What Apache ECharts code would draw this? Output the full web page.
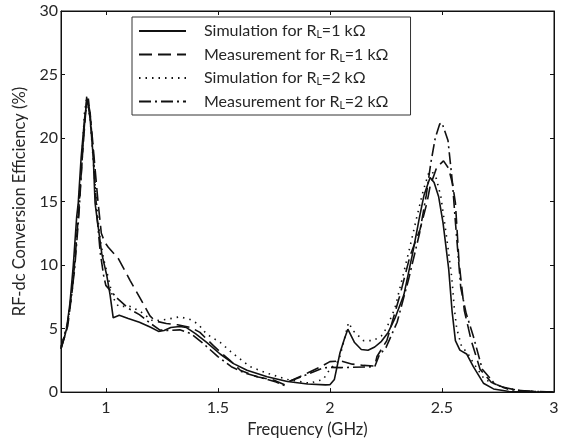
<!DOCTYPE html>
<html><head><meta charset="utf-8">
<script src="https://cdn.jsdelivr.net/npm/echarts@6/dist/echarts.min.js"></script>
<style>html,body{margin:0;padding:0;background:#fff}#c{width:563px;height:443px}</style>
</head><body><div id="c"></div>
<script>
// Frequency ticks (GHz) and efficiency ticks (%)
const xTicks = [1, 1.5, 2, 2.5, 3];
const yTicks = [0, 5, 10, 15, 20, 25, 30];

// Simulation for RL = 1 kOhm (solid)
const sim1kFreq = [0.80,0.815,0.825,0.84,0.855,0.87,0.877,0.89,0.905,0.917,0.93,0.944,0.952,0.96,0.982,1.004,1.019,1.033,1.06,1.10,1.15,1.20,1.235,1.26,1.29,1.33,1.36,1.40,1.45,1.51,1.57,1.63,1.72,1.81,1.90,1.98,2.00,2.02,2.045,2.065,2.08,2.09,2.11,2.14,2.17,2.20,2.23,2.26,2.29,2.33,2.37,2.40,2.42,2.447,2.465,2.485,2.505,2.53,2.545,2.56,2.58,2.61,2.64,2.685,2.73,2.80,2.90,3.00];
const sim1kEff  = [3.5,4.3,5.0,7.0,10.0,13.8,14.9,18.5,21.5,23.1,21.5,18.5,14.9,13.8,10.9,9.2,7.66,5.85,6.05,5.8,5.5,5.1,4.78,4.85,5.08,5.16,5.08,4.6,3.92,3.0,2.24,1.72,1.21,0.83,0.64,0.57,0.58,1.0,3.1,4.2,4.95,4.6,3.9,3.35,3.3,3.55,4.0,4.7,5.8,7.66,11.0,13.8,15.5,16.9,16.5,15.4,13.3,9.7,6.4,4.05,3.3,3.0,2.0,0.7,0.25,0.05,0.02,0.0];

// Measurement for RL = 1 kOhm (dashed); null marks the gap between the two measured bands
const meas1kFreq = [0.80,0.83,0.85,0.865,0.88,0.895,0.91,0.922,0.935,0.95,0.965,0.98,0.995,1.011,1.056,1.108,1.153,1.197,1.22,1.27,1.32,1.38,1.42,1.48,1.52,1.554,1.60,1.674,1.748,1.80,1.81,1.82,1.90,1.97,2.00,2.05,2.10,2.15,2.20,2.21,2.254,2.313,2.358,2.402,2.433,2.447,2.477,2.507,2.53,2.547,2.56,2.576,2.60,2.63,2.67,2.72,2.77,2.85,3.00];
const meas1kEff  = [3.4,5.2,8.0,11.0,14.5,18.5,22.0,23.1,21.0,18.0,15.0,12.5,11.8,11.4,10.5,8.8,7.4,6.0,5.6,5.4,5.3,5.08,4.7,3.66,3.0,2.5,1.72,1.21,0.95,0.56,null,0.85,1.5,2.1,2.4,2.45,2.2,2.1,2.05,2.8,4.05,7.66,10.75,12.8,14.9,16.2,17.7,18.2,17.6,16.4,14.9,10.3,6.4,4.1,1.8,0.77,0.39,0.1,0.0];

// Simulation for RL = 2 kOhm (dotted)
const sim2kFreq = [0.80,0.83,0.85,0.87,0.89,0.905,0.915,0.93,0.945,0.96,0.975,0.99,1.011,1.03,1.056,1.108,1.153,1.21,1.27,1.33,1.376,1.413,1.45,1.51,1.57,1.644,1.718,1.807,1.91,1.97,2.00,2.04,2.065,2.083,2.105,2.15,2.194,2.23,2.254,2.29,2.328,2.358,2.388,2.417,2.44,2.455,2.475,2.495,2.52,2.544,2.555,2.566,2.589,2.61,2.64,2.69,2.77,2.85,3.00];
const sim2kEff  = [3.6,5.3,8.0,12.5,17.5,22.0,23.2,21.5,18.0,14.5,12.0,10.5,9.0,7.5,6.75,6.75,6.36,5.6,5.72,5.93,5.72,5.34,4.56,3.92,3.0,2.0,1.5,1.0,0.7,1.0,1.8,2.5,4.2,5.47,4.8,4.05,4.05,4.43,5.08,6.6,9.3,11.5,13.8,15.9,17.2,17.4,16.8,15.4,12.3,9.0,6.6,5.0,3.5,3.2,2.3,1.0,0.39,0.1,0.0];

// Measurement for RL = 2 kOhm (dash-dot)
const meas2kFreq = [0.80,0.83,0.86,0.88,0.90,0.915,0.93,0.945,0.96,0.975,0.99,1.00,1.05,1.10,1.15,1.20,1.24,1.28,1.33,1.38,1.43,1.50,1.56,1.62,1.70,1.76,1.80,1.81,1.82,1.90,1.97,2.00,2.05,2.10,2.20,2.22,2.25,2.30,2.35,2.40,2.43,2.45,2.47,2.49,2.50,2.527,2.547,2.56,2.584,2.608,2.64,2.68,2.736,2.80,2.90,3.00];
const meas2kEff  = [3.4,5.5,9.5,14.0,20.0,23.3,22.0,18.5,14.0,11.0,9.2,8.4,7.4,6.6,6.1,5.4,4.9,4.85,4.9,4.6,3.9,2.8,2.0,1.5,1.1,0.8,0.5,null,0.85,1.4,1.9,1.95,1.93,1.95,2.0,2.9,3.5,5.5,8.8,12.5,15.5,18.0,20.0,21.1,21.2,19.8,16.45,13.4,8.2,6.2,4.4,1.8,0.64,0.2,0.05,0.0];

const seriesNames = ['Simulation for R_L=1 kΩ','Measurement for R_L=1 kΩ','Simulation for R_L=2 kΩ','Measurement for R_L=2 kΩ'];

function zip(f, v){ return f.map((x,i)=>[x, v[i]===null ? '-' : v[i]]); }

const FONT = 'Lato';
const TXT = '#262626';
const chart = echarts.init(document.getElementById('c'), null, {renderer:'canvas'});

const lineBase = {type:'line', showSymbol:false, symbol:'none', smooth:false, connectNulls:false, z:3};
const styles = [
  {color:'#111', width:1.6, type:'solid'},
  {color:'#111', width:1.6, type:[13,6]},
  {color:'#111', width:1.6, type:[1.5,5]},
  {color:'#111', width:1.6, type:[12,4,2,4]}
];
const dataSets = [zip(sim1kFreq,sim1kEff), zip(meas1kFreq,meas1kEff), zip(sim2kFreq,sim2kEff), zip(meas2kFreq,meas2kEff)];

chart.setOption({
  animation:false,
  backgroundColor:'#fff',
  grid:{left:61, right:9, top:11, bottom:44, show:true, borderColor:'#111', borderWidth:1, containLabel:false},
  legend:{
    orient:'vertical', left:132, top:17,
    backgroundColor:'#fff', borderColor:'#333', borderWidth:1, borderRadius:0,
    padding:[6,22,4,6], itemGap:6, itemWidth:47, itemHeight:14,
    itemStyle:{opacity:0},
    data: seriesNames,
    formatter: function(name){
      const parts = name.split('R_L');
      return '{a|' + parts[0] + 'R}{s|L}{a|' + parts[1] + '}';
    },
    textStyle:{
      color:TXT, fontFamily:FONT, fontSize:16, padding:[0,0,0,13],
      rich:{
        a:{fontFamily:FONT, fontSize:16, color:TXT, lineHeight:19},
        s:{fontFamily:FONT, fontSize:10.5, color:TXT, verticalAlign:'bottom', padding:[6,0,0,0], lineHeight:19}
      }
    }
  },
  xAxis:[{
    type:'value', min:0.8, max:3, position:'bottom',
    name:'Frequency (GHz)', nameLocation:'middle', nameGap:27,
    nameTextStyle:{fontFamily:FONT, fontSize:16.5, color:TXT},
    axisLine:{show:true, onZero:false, lineStyle:{color:'#111', width:1}},
    axisTick:{show:true, inside:true, length:4, customValues:xTicks, lineStyle:{color:'#111'}},
    axisLabel:{show:true, customValues:xTicks, fontFamily:FONT, fontSize:16, color:TXT, margin:8,
      formatter:(v)=>String(v)},
    splitLine:{show:false}
  },{
    type:'value', min:0.8, max:3, position:'top',
    axisLine:{show:true, onZero:false, lineStyle:{color:'#111', width:1}},
    axisTick:{show:true, inside:true, length:4, customValues:xTicks, lineStyle:{color:'#111'}},
    axisLabel:{show:false}, splitLine:{show:false}
  }],
  yAxis:[{
    type:'value', min:0, max:30, interval:5, position:'left',
    name:'RF-dc Conversion Efficiency (%)', nameLocation:'middle', nameGap:33,
    nameTextStyle:{fontFamily:FONT, fontSize:16.5, color:TXT},
    axisLine:{show:true, onZero:false, lineStyle:{color:'#111', width:1}},
    axisTick:{show:true, inside:true, length:4, lineStyle:{color:'#111'}},
    axisLabel:{show:true, fontFamily:FONT, fontSize:16, color:TXT, margin:3},
    splitLine:{show:false}
  },{
    type:'value', min:0, max:30, interval:5, position:'right',
    axisLine:{show:true, onZero:false, lineStyle:{color:'#111', width:1}},
    axisTick:{show:true, inside:true, length:4, lineStyle:{color:'#111'}},
    axisLabel:{show:false}, splitLine:{show:false}
  }],
  series: seriesNames.map((n,i)=>Object.assign({}, lineBase, {
    name:n, xAxisIndex:0, yAxisIndex:0, data:dataSets[i],
    lineStyle:styles[i], itemStyle:{color:'#111'}
  }))
});
</script></body></html>
